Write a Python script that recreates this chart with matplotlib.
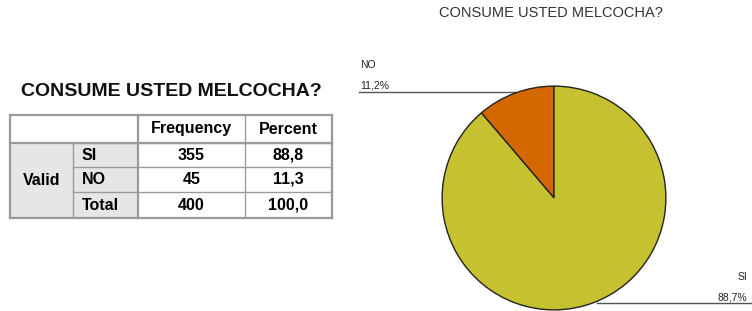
import matplotlib
matplotlib.use('Agg')
import matplotlib.pyplot as plt
from matplotlib.patches import Rectangle

plt.rcParams['font.family'] = ['Liberation Sans', 'DejaVu Sans']

# ---------- datos ----------
pregunta = 'CONSUME USTED MELCOCHA?'
categorias = ['SI', 'NO']
frecuencias = [355, 45]
porcentajes = [88.8, 11.3]
total_frec = 400
total_pct = 100.0
# porcentajes que muestra el grafico de pastel
pct_pastel = ['88,7%', '11,2%']
colores = {'SI': '#c6c131', 'NO': '#d46800'}

W, H = 752, 311
fig = plt.figure(figsize=(W / 100, H / 100), dpi=100)
base = fig.add_axes([0, 0, 1, 1])
base.set_xlim(0, W); base.set_ylim(H, 0); base.axis('off')

# ---------- tabla ----------
base.text(171, 92, pregunta, ha='center', va='center', fontsize=14, fontweight='bold', color='#111111')

xs = [10, 73, 138, 245, 332]
ys = [115, 143, 167, 192, 218]
gris = '#e6e6e6'
borde = '#9a9a9a'
# celdas grises: columna Valid y etiquetas de fila
base.add_patch(Rectangle((xs[0], ys[1]), xs[2] - xs[0], ys[4] - ys[1], facecolor=gris, edgecolor='none'))
for y0 in ys[1:-1]:
    base.plot([xs[1], xs[4]], [y0, y0], color=borde, lw=1)
for y0 in (ys[0], ys[4]):
    base.plot([xs[0], xs[4]], [y0, y0], color=borde, lw=1.6)
base.plot([xs[0], xs[4]], [ys[1], ys[1]], color=borde, lw=1.6)
base.plot([xs[0], xs[0]], [ys[0], ys[4]], color=borde, lw=1.6)
base.plot([xs[4], xs[4]], [ys[0], ys[4]], color=borde, lw=1.6)
base.plot([xs[1], xs[1]], [ys[1], ys[4]], color=borde, lw=1)
base.plot([xs[2], xs[2]], [ys[0], ys[4]], color=borde, lw=1.6)
base.plot([xs[3], xs[3]], [ys[0], ys[4]], color=borde, lw=1)

fs = 11.5
base.text((xs[2] + xs[3]) / 2, (ys[0] + ys[1]) / 2, 'Frequency', ha='center', va='center', fontsize=fs, fontweight='bold')
base.text((xs[3] + xs[4]) / 2, (ys[0] + ys[1]) / 2, 'Percent', ha='center', va='center', fontsize=fs, fontweight='bold')
base.text((xs[0] + xs[1]) / 2, (ys[1] + ys[4]) / 2, 'Valid', ha='center', va='center', fontsize=fs, fontweight='bold')
filas = list(zip(categorias + ['Total'], frecuencias + [total_frec], porcentajes + [total_pct]))
for i, (cat, fr, pc) in enumerate(filas):
    yc = (ys[i + 1] + ys[i + 2]) / 2
    base.text(xs[1] + 9, yc, cat, ha='left', va='center', fontsize=fs, fontweight='bold')
    base.text((xs[2] + xs[3]) / 2, yc, f'{fr}', ha='center', va='center', fontsize=fs, fontweight='bold')
    base.text((xs[3] + xs[4]) / 2, yc, f'{pc:.1f}'.replace('.', ','), ha='center', va='center', fontsize=fs, fontweight='bold')

# ---------- pastel ----------
base.text(551, 13, pregunta, ha='center', va='center', fontsize=10.5, color='#333333')

cx, cy, r = 554, 198, 113
pie_ax = fig.add_axes([(cx - r) / W, (H - cy - r) / H, 2 * r / W, 2 * r / H])
orden = ['NO', 'SI']
vals = [frecuencias[categorias.index(c)] for c in orden]
pie_ax.pie(vals, colors=[colores[c] for c in orden], startangle=90, counterclock=True,
           wedgeprops=dict(edgecolor='#222222', linewidth=1))
pie_ax.set_xlim(-1.01, 1.01); pie_ax.set_ylim(-1.01, 1.01)
pie_ax.set_aspect('equal'); pie_ax.axis('off')

# etiquetas con lineas guia
base.text(360, 65, 'NO', ha='left', va='center', fontsize=7.5, color='#222222')
base.text(360, 85, pct_pastel[1], ha='left', va='center', fontsize=7.5, color='#222222')
base.plot([359, 515], [92, 92], color='#555555', lw=1)
base.text(747, 277, 'SI', ha='right', va='center', fontsize=7.5, color='#222222')
base.text(747, 297, pct_pastel[0], ha='right', va='center', fontsize=7.5, color='#222222')
base.plot([597, 752], [303, 303], color='#555555', lw=1)

fig.savefig('out.png', dpi=100)
